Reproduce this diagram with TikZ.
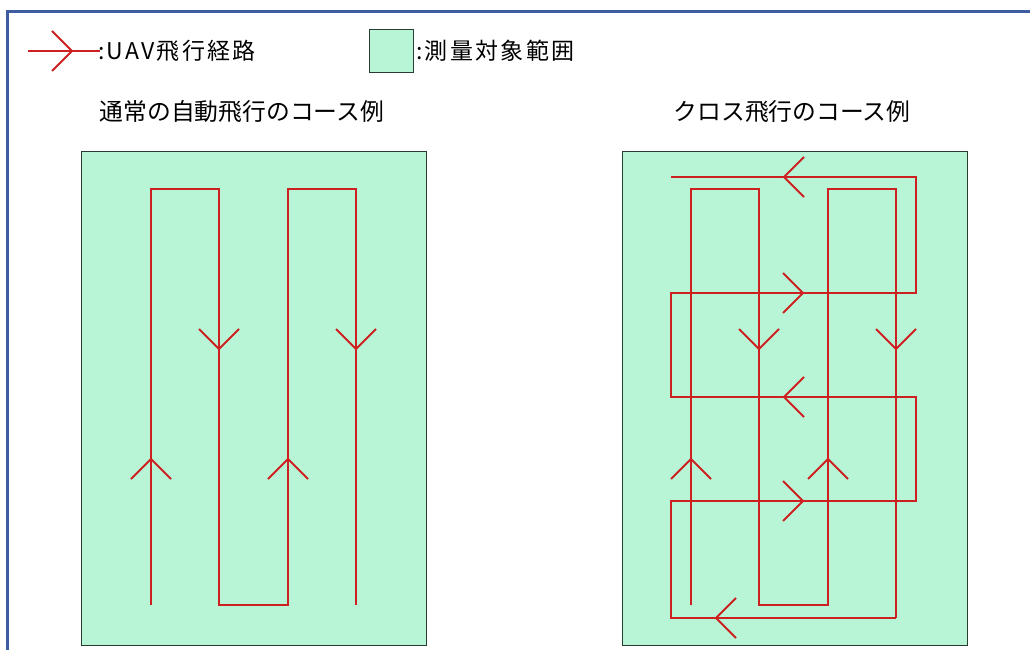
\documentclass[tikz,border=0pt]{standalone}
\usepackage{fontspec}
\setmainfont{Noto Sans CJK JP}
\newfontfamily\legfont[LetterSpace=10]{Noto Sans CJK JP}
\definecolor{areagreen}{RGB}{184,245,214}
\definecolor{pathred}{RGB}{205,32,32}
\definecolor{frameblue}{RGB}{62,92,160}
\definecolor{boxedge}{RGB}{40,60,50}
\tikzset{
  area/.style={draw=boxedge, line width=1.4pt, fill=areagreen},
  thinpath/.style={draw=pathred, line width=1.3pt, line join=miter},
  thickpath/.style={draw=pathred, line width=2.1pt, line join=miter},
  vhead/.style={draw=pathred, line width=2pt},
  vtip/.pic={\draw[vhead] (-20,20) -- (0,0) -- (-20,-20);},
  lbl/.style={inner sep=0pt, anchor=west, font=\legfont\fontsize{23}{25}\selectfont},
  ttl/.style={inner sep=0pt, font=\fontsize{23.8}{26}\selectfont}
}
\begin{document}
\begin{tikzpicture}[x=1pt,y=-1pt]
\useasboundingbox (0,0) rectangle (1030,650);
\clip (0,0) rectangle (1030,650);
\fill[white] (0,0) rectangle (1030,650);
% outer frame
\draw[frameblue, line width=3pt] (7,12) rectangle (1045,665);
% legend
\coordinate (la) at (28,51);
\coordinate (lb) at (100,51);
\draw[draw=pathred, line width=1.5pt] (la) -- (lb);
\pic at (72,51) {vtip};
\node[lbl] (legpath) at (98,51) {:UAV飛行経路};
\node[area, minimum width=44pt, minimum height=43pt, inner sep=0pt, anchor=north west] (legbox) at (369,29) {};
\node[lbl] (legarea) at (416,51) {:測量対象範囲};
% titles
\node[ttl] (t1) at (242,112) {通常の自動飛行のコース例};
\node[ttl] (t2) at (792,112) {クロス飛行のコース例};
% areas
\node[area, minimum width=345pt, minimum height=494pt, inner sep=0pt, anchor=north west] (a1) at (81,151) {};
\node[area, minimum width=345pt, minimum height=494pt, inner sep=0pt, anchor=north west] (a2) at (622,151) {};
% left serpentine
\draw[thinpath] (151,605) -- (151,189) -- (219,189) -- (219,605) -- (288,605) -- (288,189) -- (356,189) -- (356,605);
\pic[rotate=-90] at (219,349) {vtip};
\pic[rotate=-90] at (356,349) {vtip};
\pic[rotate=90] at (151,459) {vtip};
\pic[rotate=90] at (288,459) {vtip};
% right serpentine
\draw[thinpath] (691,605) -- (691,189) -- (759,189) -- (759,605) -- (828,605) -- (828,189) -- (896,189) -- (896,618);
% cross lines
\draw[thickpath] (896,618) -- (671,618) -- (671,501) -- (916,501) -- (916,397) -- (671,397) -- (671,293) -- (916,293) -- (916,177) -- (671,177);
\pic[rotate=-90] at (759,349) {vtip};
\pic[rotate=-90] at (896,349) {vtip};
\pic[rotate=90] at (691,459) {vtip};
\pic[rotate=90] at (828,459) {vtip};
\pic[rotate=180] at (784,177) {vtip};
\pic at (803,293) {vtip};
\pic[rotate=180] at (784,397) {vtip};
\pic at (803,501) {vtip};
\pic[rotate=180] at (716,618) {vtip};
\end{tikzpicture}
\end{document}
